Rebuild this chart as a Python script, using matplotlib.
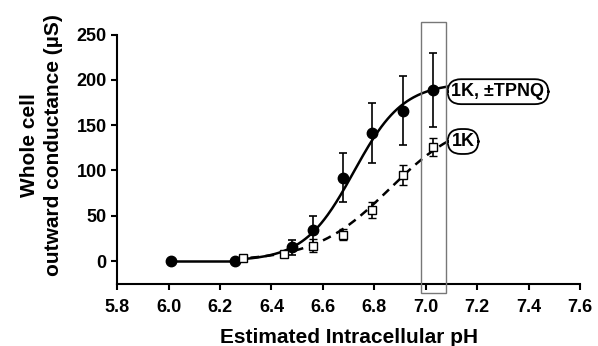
import numpy as np
import matplotlib.pyplot as plt
from matplotlib.patches import Rectangle

plt.rcParams['font.family'] = ['Liberation Sans', 'DejaVu Sans']
plt.rcParams['font.weight'] = 'bold'

# 1K, +/-TPNQ (filled circles)
ph_tpnq = [6.01, 6.26, 6.48, 6.56, 6.68, 6.79, 6.91, 7.03]
g_tpnq = [0, 0, 15, 34, 92, 141, 166, 189]
err_tpnq = [0, 0, 8, 16, 27, 33, 38, 41]

# 1K (open squares)
ph_1k = [6.29, 6.45, 6.56, 6.68, 6.79, 6.91, 7.03]
g_1k = [3, 8, 17, 29, 56, 95, 126]
err_1k = [0, 0, 7, 6, 9, 11, 10]

# fitted curve parameters (Gmax, pK, Hill slope)
fit_tpnq = (197, 6.72, 4.5)
fit_1k = (160, 6.86, 3.0)

x_ticks = [5.8, 6.0, 6.2, 6.4, 6.6, 6.8, 7.0, 7.2, 7.4, 7.6]
y_ticks = [0, 50, 100, 150, 200, 250]


def hill(ph, gmax, pk, n):
    return gmax / (1 + 10 ** (n * (pk - ph)))


fig = plt.figure(figsize=(5.98, 3.46), dpi=100)
ax = fig.add_axes([0.196, 0.18, 0.774, 0.72])

# fitted lines
xs = np.linspace(6.26, 7.09, 200)
ax.plot([6.01, 6.26], [0, 0], color='black', lw=1.8)
ax.plot(xs, hill(xs, *fit_tpnq), color='black', lw=1.8)
ax.plot(xs, hill(xs, *fit_1k), color='black', lw=1.8, ls=(0, (3.5, 2.5)))

ax.errorbar(ph_tpnq, g_tpnq, yerr=err_tpnq, fmt='o', color='black', ms=7.5,
            elinewidth=1.2, capsize=3, capthick=1.2, zorder=4)
ax.errorbar(ph_1k, g_1k, yerr=err_1k, fmt='s', color='black', mfc='white',
            mec='black', mew=1.0, ms=5.5, elinewidth=1.2, capsize=3, capthick=1.2, zorder=4)

# highlighted pH 7.0 region
ax.add_patch(Rectangle((6.98, -35), 0.098, 299, fill=False, ec='#777777',
                       lw=1.0, clip_on=False, zorder=5))

box = dict(boxstyle='round,pad=0.22,rounding_size=0.75', fc='white', ec='black', lw=1.3)
ax.text(7.1, 187, '1K, \u00b1TPNQ', fontsize=13, fontweight='bold',
        va='center', ha='left', bbox=box, clip_on=False)
ax.text(7.1, 132, '1K', fontsize=13, fontweight='bold',
        va='center', ha='left', bbox=box, clip_on=False)

ax.set_xlim(5.8, 7.6)
ax.set_ylim(-25, 250)
ax.set_xticks(x_ticks)
ax.set_yticks(y_ticks)
ax.set_xticklabels([f'{t:.1f}' for t in x_ticks])
for lab in ax.get_xticklabels() + ax.get_yticklabels():
    lab.set_fontweight('bold')
    lab.set_fontsize(13)

ax.spines['top'].set_visible(False)
ax.spines['right'].set_visible(False)
ax.spines['left'].set_linewidth(1.5)
ax.spines['bottom'].set_linewidth(1.5)
ax.tick_params(direction='out', length=4, width=1.5)
ax.tick_params(axis='x', pad=7)

ax.set_xlabel('Estimated Intracellular pH', fontsize=15, fontweight='bold', labelpad=9)
ax.set_ylabel('Whole cell\noutward conductance (\u00b5S)', fontsize=15,
              fontweight='bold', linespacing=1.3)
ax.yaxis.set_label_coords(-0.118, 0.555)

fig.savefig('out.png', dpi=100)
